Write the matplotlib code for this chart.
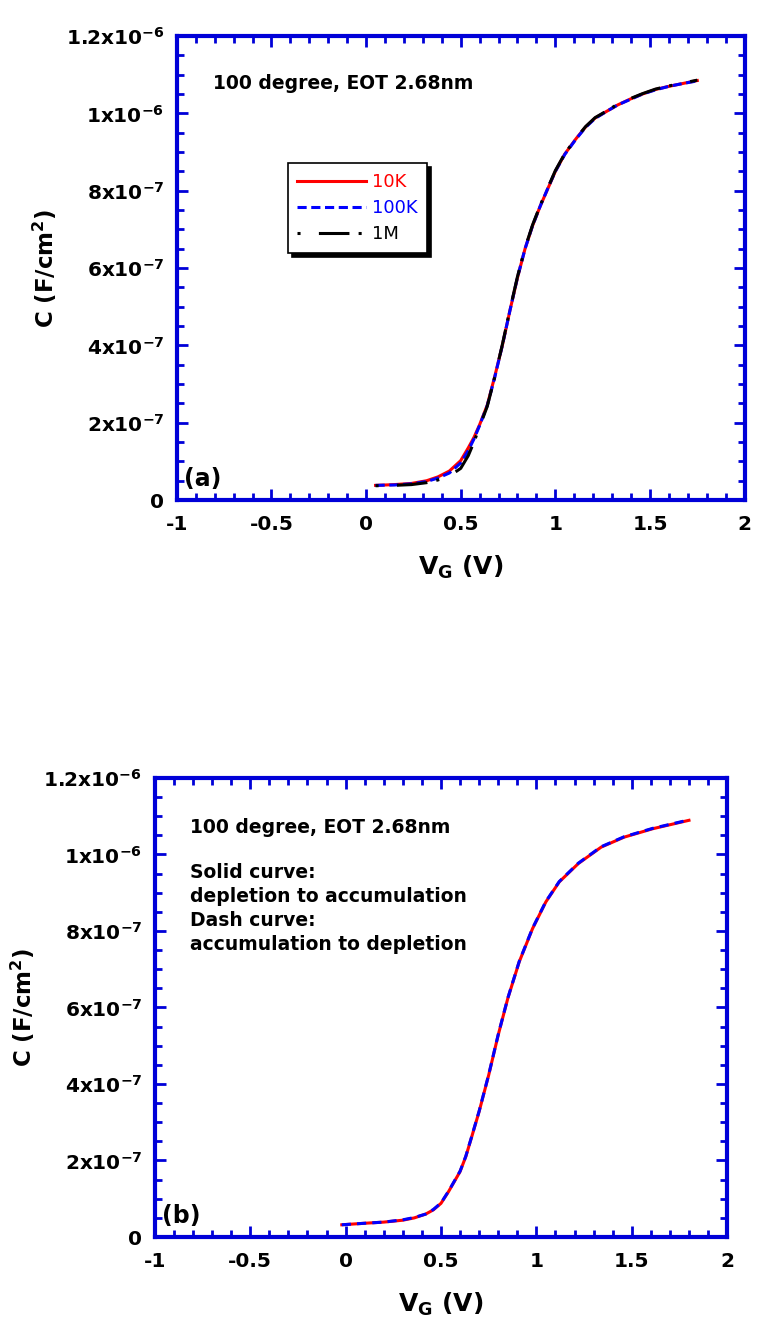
import matplotlib
matplotlib.use("Agg")
import matplotlib.pyplot as plt
from matplotlib.ticker import MultipleLocator

plt.rcParams["font.family"] = ["DejaVu Sans"]
plt.rcParams["font.weight"] = "bold"
plt.rcParams["mathtext.fontset"] = "dejavusans"
plt.rcParams["mathtext.default"] = "bf"

# --- données (C en unités de 1e-7 F/cm2) ---
va = [0.05, 0.15, 0.24, 0.32, 0.38, 0.44, 0.50, 0.54, 0.57, 0.60, 0.64,
      0.68, 0.72, 0.76, 0.80, 0.84, 0.88, 0.92, 0.96, 1.00, 1.05, 1.11,
      1.16, 1.21, 1.27, 1.33, 1.40, 1.46, 1.53, 1.60, 1.67, 1.75]
c_10k = [0.38, 0.40, 0.43, 0.50, 0.60, 0.75, 1.02, 1.35, 1.62, 1.95, 2.45,
         3.20, 4.00, 4.90, 5.75, 6.50, 7.10, 7.60, 8.05, 8.50, 8.95, 9.35,
         9.65, 9.88, 10.05, 10.22, 10.38, 10.50, 10.62, 10.70, 10.77, 10.85]
c_100k = [0.38, 0.39, 0.42, 0.48, 0.57, 0.70, 0.96, 1.28, 1.58, 1.93, 2.44,
          3.18, 4.00, 4.90, 5.76, 6.50, 7.10, 7.60, 8.06, 8.50, 8.94, 9.34,
          9.64, 9.87, 10.05, 10.22, 10.37, 10.50, 10.61, 10.70, 10.77, 10.84]
c_1m = [0.37, 0.38, 0.40, 0.45, 0.52, 0.62, 0.82, 1.15, 1.50, 1.90, 2.42,
        3.18, 4.02, 4.92, 5.78, 6.52, 7.12, 7.62, 8.07, 8.52, 8.96, 9.36,
        9.66, 9.89, 10.06, 10.24, 10.39, 10.51, 10.63, 10.71, 10.78, 10.86]

vb = [-0.02, 0.10, 0.20, 0.30, 0.36, 0.42, 0.46, 0.50, 0.54, 0.57, 0.60,
      0.63, 0.66, 0.70, 0.75, 0.80, 0.85, 0.91, 0.98, 1.05, 1.12, 1.22,
      1.34, 1.46, 1.61, 1.80]
c_dep_acc = [0.32, 0.36, 0.39, 0.44, 0.50, 0.60, 0.71, 0.88, 1.19, 1.45,
             1.71, 2.10, 2.60, 3.28, 4.23, 5.28, 6.23, 7.19, 8.06, 8.76,
             9.28, 9.76, 10.19, 10.45, 10.67, 10.89]
c_acc_dep = [0.32, 0.36, 0.39, 0.45, 0.51, 0.60, 0.72, 0.89, 1.20, 1.46,
             1.72, 2.11, 2.61, 3.29, 4.24, 5.29, 6.24, 7.20, 8.07, 8.77,
             9.29, 9.77, 10.20, 10.46, 10.68, 10.90]

x_ticks = [-1, -0.5, 0, 0.5, 1, 1.5, 2]
x_labels = ["-1", "-0.5", "0", "0.5", "1", "1.5", "2"]
y_ticks = [0, 2e-7, 4e-7, 6e-7, 8e-7, 1e-6, 1.2e-6]
y_labels = ["0", r"2x10$^{-7}$", r"4x10$^{-7}$", r"6x10$^{-7}$",
            r"8x10$^{-7}$", r"1x10$^{-6}$", r"1.2x10$^{-6}$"]

info_text = "100 degree, EOT 2.68nm"
sweep_text = ("Solid curve:\ndepletion to accumulation\n"
              "Dash curve:\naccumulation to depletion")

BLUE = "#0000D8"


def scale(values):
    return [v * 1e-7 for v in values]


def style_axes(ax, tag):
    ax.set_xlim(-1, 2)
    ax.set_ylim(0, 1.2e-6)
    ax.set_xticks(x_ticks)
    ax.set_xticklabels(x_labels)
    ax.set_yticks(y_ticks)
    ax.set_yticklabels(y_labels)
    ax.xaxis.set_minor_locator(MultipleLocator(0.1))
    ax.yaxis.set_minor_locator(MultipleLocator(5e-8))
    for spine in ax.spines.values():
        spine.set_color(BLUE)
        spine.set_linewidth(3)
    ax.tick_params(which="both", direction="in", top=True, right=True,
                   color=BLUE, width=2, labelsize=14.5)
    ax.tick_params(axis="x", pad=11)
    ax.tick_params(axis="y", pad=9)
    ax.tick_params(which="major", length=8)
    ax.tick_params(which="minor", length=5)
    ax.set_xlabel(r"V$_G$ (V)", fontsize=18, fontweight="bold", labelpad=14)
    ax.set_ylabel(r"C (F/cm$^2$)", fontsize=16.5, fontweight="bold",
                  labelpad=5)
    ax.text(0.012, 0.02, tag, transform=ax.transAxes, fontsize=17,
            fontweight="bold", ha="left", va="bottom")


fig = plt.figure(figsize=(7.59, 13.31), dpi=100)

# --- (a) fréquences ---
ax_a = fig.add_axes([0.233, 0.6243, 0.748, 0.3486])
ax_a.plot(va, scale(c_10k), color="red", lw=2.2, label="10K")
ax_a.plot(va, scale(c_100k), color="blue", lw=2.2, ls=(0, (3, 1.5)),
          label="100K")
ax_a.plot(va, scale(c_1m), color="black", lw=2.2, ls=(0, (1, 6, 10, 3)),
          label="1M")
style_axes(ax_a, "(a)")
ax_a.text(0.063, 0.897, info_text, transform=ax_a.transAxes, fontsize=13.5,
          fontweight="bold", va="center")
leg = ax_a.legend(loc="upper left", bbox_to_anchor=(0.195, 0.726),
                  borderaxespad=0, fancybox=False, handlelength=3.8,
                  handletextpad=0.3, labelspacing=0.45, borderpad=0.55,
                  prop={"weight": "normal", "size": 13},
                  shadow={"color": "black", "alpha": 1.0, "ox": 3, "oy": -3})
leg.get_frame().set_edgecolor("black")
leg.get_frame().set_linewidth(1.2)
for txt, col in zip(leg.get_texts(), ["red", "blue", "black"]):
    txt.set_color(col)

# --- (b) sens de balayage ---
ax_b = fig.add_axes([0.204, 0.0706, 0.754, 0.345])
ax_b.plot(vb, scale(c_dep_acc), color="red", lw=2.2)
ax_b.plot(vb, scale(c_acc_dep), color="blue", lw=2.2, ls=(0, (3, 2)))
style_axes(ax_b, "(b)")
ax_b.text(0.061, 0.891, info_text, transform=ax_b.transAxes, fontsize=13.5,
          fontweight="bold", va="center")
ax_b.text(0.061, 0.815, sweep_text, transform=ax_b.transAxes, fontsize=13.5,
          fontweight="bold", va="top", linespacing=1.33)

fig.savefig("out.png", dpi=100)
